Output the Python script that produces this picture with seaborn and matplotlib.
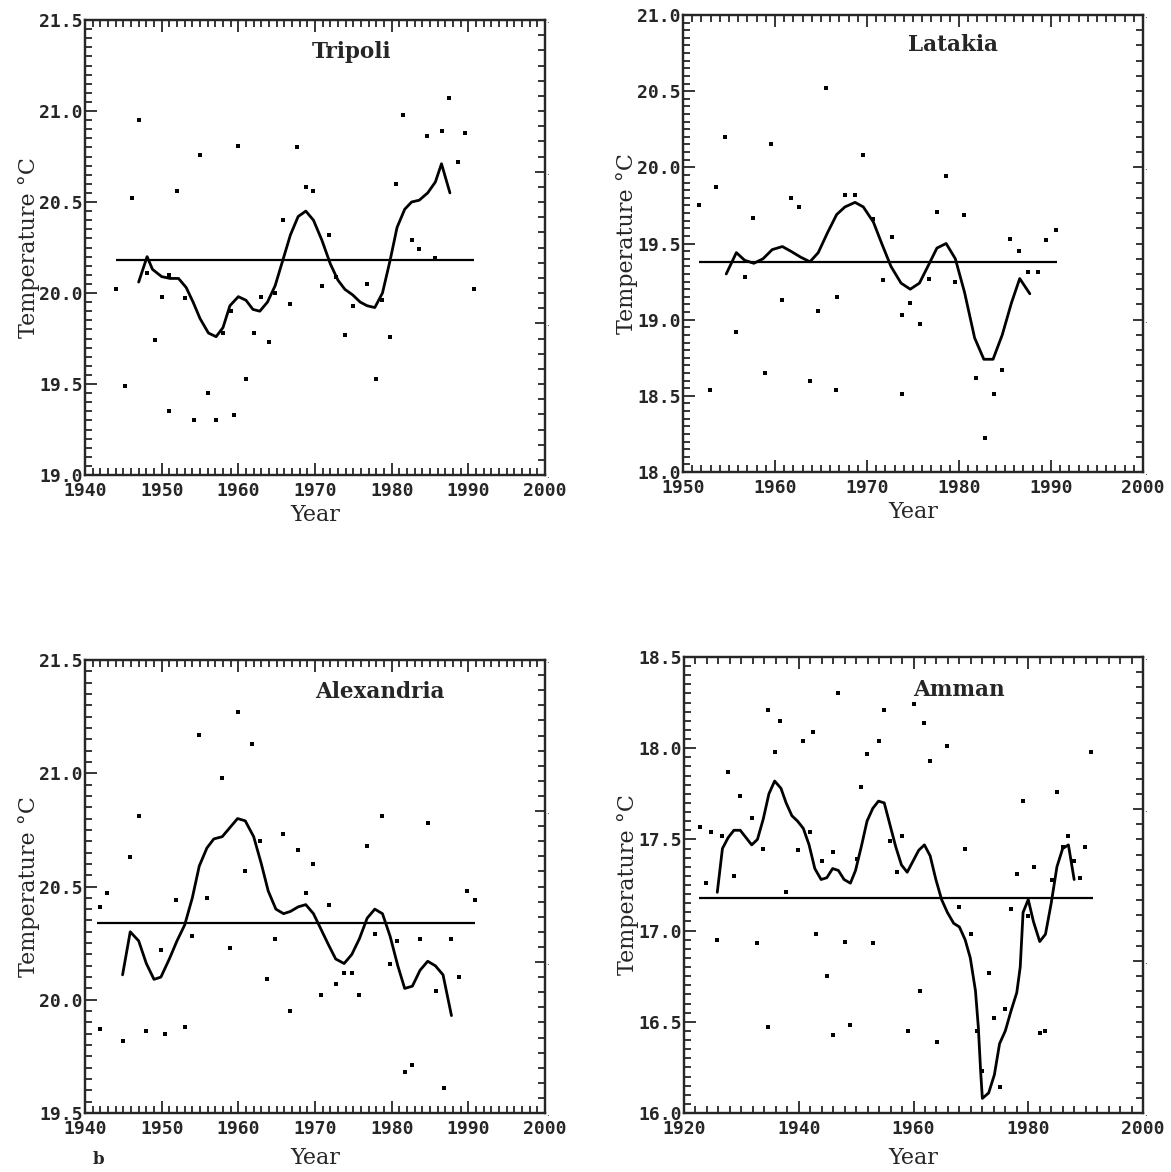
import numpy as np
import seaborn as sns
import matplotlib.pyplot as plt
from matplotlib.ticker import MultipleLocator, FormatStrFormatter, FuncFormatter

# Annual mean temperatures (dots), smoothed curve and long-term mean.

# --- Tripoli ---
tripoli_years = [1944.1, 1945.2, 1946.1, 1947.0, 1948.1, 1949.1, 1950.1, 1951.0, 1951.0,
                 1952.0, 1953.1, 1954.2, 1955.0, 1956.1, 1957.1, 1958.0, 1959.0, 1959.4,
                 1959.9, 1961.0, 1962.0, 1963.0, 1964.0, 1964.8, 1965.8, 1966.8, 1967.7,
                 1968.8, 1969.8, 1970.9, 1971.8, 1972.8, 1973.9, 1974.9, 1976.8, 1977.9,
                 1978.7, 1979.8, 1980.6, 1981.5, 1982.6, 1983.6, 1984.6, 1985.7, 1986.5,
                 1987.5, 1988.6, 1989.6, 1990.7]
tripoli_temps = [20.02, 19.49, 20.52, 20.95, 20.11, 19.74, 19.98, 20.10, 19.35,
                 20.56, 19.97, 19.30, 20.76, 19.45, 19.30, 19.78, 19.90, 19.33,
                 20.81, 19.53, 19.78, 19.98, 19.73, 20.00, 20.40, 19.94, 20.80,
                 20.58, 20.56, 20.04, 20.32, 20.09, 19.77, 19.93, 20.05, 19.53,
                 19.96, 19.76, 20.60, 20.98, 20.29, 20.24, 20.86, 20.19, 20.89,
                 21.07, 20.72, 20.88, 20.02]
tripoli_smooth_years = [1947.0, 1948.1, 1948.8, 1950.0, 1951.1, 1952.2, 1953.2, 1954.1, 1955.0,
                        1956.1, 1957.1, 1958.0, 1958.9, 1960.0, 1961.0, 1961.9, 1962.8, 1963.8,
                        1964.8, 1965.8, 1966.8, 1967.8, 1968.8, 1969.8, 1970.9, 1972.0, 1973.0,
                        1973.9, 1974.9, 1975.9, 1976.8, 1977.8, 1978.8, 1979.8, 1980.7, 1981.7,
                        1982.6, 1983.6, 1984.7, 1985.7, 1986.5, 1987.6]
tripoli_smooth = [20.06, 20.20, 20.13, 20.09, 20.08, 20.08, 20.03, 19.95, 19.86,
                  19.78, 19.76, 19.81, 19.93, 19.98, 19.96, 19.91, 19.90, 19.95,
                  20.04, 20.18, 20.32, 20.42, 20.45, 20.40, 20.29, 20.16, 20.07,
                  20.02, 19.99, 19.95, 19.93, 19.92, 20.00, 20.18, 20.36, 20.46,
                  20.50, 20.51, 20.55, 20.61, 20.71, 20.55]
tripoli_mean = 20.18
tripoli_span = [1944.0, 1990.8]

# --- Latakia ---
latakia_years = [1951.7, 1952.9, 1953.6, 1954.6, 1955.8, 1956.7, 1957.6, 1958.9, 1959.6,
                 1960.8, 1961.7, 1962.6, 1963.8, 1964.7, 1965.5, 1966.6, 1966.7, 1967.6,
                 1968.7, 1969.6, 1970.6, 1971.7, 1972.7, 1973.8, 1973.8, 1974.7, 1975.8,
                 1976.7, 1977.6, 1978.6, 1979.6, 1980.5, 1981.8, 1982.8, 1983.8, 1984.7,
                 1985.5, 1986.5, 1987.5, 1988.6, 1989.5, 1990.5]
latakia_temps = [19.75, 18.54, 19.87, 20.20, 18.92, 19.28, 19.67, 18.65, 20.15,
                 19.13, 19.80, 19.74, 18.60, 19.06, 20.52, 18.54, 19.15, 19.82,
                 19.82, 20.08, 19.66, 19.26, 19.54, 19.03, 18.51, 19.11, 18.97,
                 19.27, 19.71, 19.94, 19.25, 19.69, 18.62, 18.22, 18.51, 18.67,
                 19.53, 19.45, 19.31, 19.31, 19.52, 19.59]
latakia_smooth_years = [1954.7, 1955.8, 1956.7, 1957.7, 1958.7, 1959.7, 1960.8, 1961.7, 1962.8,
                        1963.8, 1964.7, 1965.7, 1966.7, 1967.6, 1968.7, 1969.6, 1970.7, 1971.6,
                        1972.6, 1973.7, 1974.7, 1975.7, 1976.7, 1977.6, 1978.6, 1979.6, 1980.6,
                        1981.7, 1982.7, 1983.7, 1984.7, 1985.7, 1986.6, 1987.7]
latakia_smooth = [19.30, 19.44, 19.39, 19.37, 19.40, 19.46, 19.48, 19.45, 19.41,
                  19.38, 19.44, 19.57, 19.69, 19.74, 19.77, 19.74, 19.64, 19.50,
                  19.35, 19.24, 19.20, 19.24, 19.36, 19.47, 19.50, 19.40, 19.18,
                  18.88, 18.74, 18.74, 18.90, 19.11, 19.27, 19.17]
latakia_mean = 19.38
latakia_span = [1951.7, 1990.7]

# --- Alexandria ---
alexandria_years = [1941.9, 1942.9, 1942.0, 1944.9, 1945.9, 1947.0, 1948.0, 1949.9, 1950.4,
                    1951.9, 1953.0, 1954.0, 1954.9, 1955.9, 1957.9, 1958.9, 1959.9, 1960.9,
                    1961.8, 1962.8, 1963.8, 1964.8, 1965.8, 1966.8, 1967.8, 1968.8, 1969.8,
                    1970.8, 1971.8, 1972.8, 1973.8, 1974.8, 1975.8, 1976.8, 1977.8, 1978.7,
                    1979.8, 1980.7, 1981.7, 1982.7, 1983.7, 1984.7, 1985.8, 1986.8, 1987.8,
                    1988.8, 1989.8, 1990.9]
alexandria_temps = [20.41, 20.47, 19.87, 19.82, 20.63, 20.81, 19.86, 20.22, 19.85,
                    20.44, 19.88, 20.28, 21.17, 20.45, 20.98, 20.23, 21.27, 20.57,
                    21.13, 20.70, 20.09, 20.27, 20.73, 19.95, 20.66, 20.47, 20.60,
                    20.02, 20.42, 20.07, 20.12, 20.12, 20.02, 20.68, 20.29, 20.81,
                    20.16, 20.26, 19.68, 19.71, 20.27, 20.78, 20.04, 19.61, 20.27,
                    20.10, 20.48, 20.44]
alexandria_smooth_years = [1944.9, 1945.9, 1947.0, 1948.0, 1949.0, 1949.9, 1951.0, 1952.0, 1953.0,
                           1954.0, 1954.9, 1955.9, 1956.8, 1957.9, 1958.9, 1959.9, 1960.9, 1962.0,
                           1963.0, 1963.9, 1964.9, 1965.9, 1966.8, 1967.8, 1968.8, 1969.8, 1970.8,
                           1971.8, 1972.7, 1973.8, 1974.8, 1975.8, 1976.8, 1977.8, 1978.8, 1979.8,
                           1980.8, 1981.7, 1982.7, 1983.7, 1984.7, 1985.7, 1986.7, 1987.8]
alexandria_smooth = [20.11, 20.30, 20.26, 20.16, 20.09, 20.10, 20.18, 20.26, 20.33,
                     20.45, 20.59, 20.67, 20.71, 20.72, 20.76, 20.80, 20.79, 20.72,
                     20.60, 20.48, 20.40, 20.38, 20.39, 20.41, 20.42, 20.38, 20.31,
                     20.24, 20.18, 20.16, 20.20, 20.27, 20.36, 20.40, 20.38, 20.28,
                     20.15, 20.05, 20.06, 20.13, 20.17, 20.15, 20.11, 19.93]
alexandria_mean = 20.34
alexandria_span = [1941.6, 1990.9]

# --- Amman ---
amman_years = [1922.8, 1923.8, 1924.7, 1925.7, 1926.7, 1927.7, 1928.7, 1929.7, 1931.8,
               1932.8, 1933.8, 1934.7, 1934.7, 1935.8, 1936.7, 1937.8, 1939.8, 1940.8,
               1941.9, 1942.4, 1943.0, 1944.0, 1945.0, 1945.9, 1945.9, 1946.9, 1948.0,
               1949.0, 1950.1, 1950.9, 1951.9, 1953.0, 1954.0, 1954.9, 1955.9, 1957.1,
               1958.0, 1959.0, 1960.1, 1961.1, 1961.9, 1962.9, 1964.1, 1965.9, 1968.0,
               1969.0, 1970.0, 1971.0, 1972.0, 1973.1, 1974.0, 1975.0, 1976.0, 1977.0,
               1978.0, 1979.0, 1980.0, 1981.0, 1982.0, 1983.0, 1984.1, 1985.0, 1986.0,
               1987.0, 1988.0, 1989.0, 1989.9, 1991.0]
amman_temps = [17.57, 17.26, 17.54, 16.95, 17.52, 17.87, 17.30, 17.74, 17.62,
               16.93, 17.45, 18.21, 16.47, 17.98, 18.15, 17.21, 17.44, 18.04,
               17.54, 18.09, 16.98, 17.38, 16.75, 17.43, 16.43, 18.30, 16.94,
               16.48, 17.39, 17.79, 17.97, 16.93, 18.04, 18.21, 17.49, 17.32,
               17.52, 16.45, 18.24, 16.67, 18.14, 17.93, 16.39, 18.01, 17.13,
               17.45, 16.98, 16.45, 16.23, 16.77, 16.52, 16.14, 16.57, 17.12,
               17.31, 17.71, 17.08, 17.35, 16.44, 16.45, 17.28, 17.76, 17.46,
               17.52, 17.38, 17.29, 17.46, 17.98]
amman_smooth_years = [1925.8, 1926.7, 1927.7, 1928.7, 1929.8, 1930.8, 1931.8, 1932.8, 1933.8,
                      1934.8, 1935.8, 1936.9, 1937.8, 1938.8, 1939.8, 1940.8, 1941.8, 1942.8,
                      1943.9, 1944.9, 1945.9, 1946.9, 1947.9, 1949.0, 1949.9, 1950.9, 1951.9,
                      1952.9, 1953.9, 1954.9, 1955.9, 1956.9, 1957.9, 1958.9, 1959.9, 1960.9,
                      1961.9, 1962.9, 1963.9, 1964.9, 1965.9, 1967.0, 1968.0, 1969.0, 1969.9,
                      1970.8, 1971.3, 1971.7, 1972.0, 1973.1, 1974.1, 1975.0, 1976.0, 1977.0,
                      1978.0, 1978.6, 1979.1, 1980.0, 1980.9, 1982.0, 1983.0, 1984.0, 1985.0,
                      1986.0, 1987.0, 1988.0]
amman_smooth = [17.21, 17.45, 17.51, 17.55, 17.55, 17.51, 17.47, 17.50, 17.61,
                17.75, 17.82, 17.78, 17.70, 17.63, 17.60, 17.56, 17.47, 17.34,
                17.28, 17.29, 17.34, 17.33, 17.28, 17.26, 17.33, 17.46, 17.60,
                17.67, 17.71, 17.70, 17.58, 17.46, 17.36, 17.32, 17.38, 17.44,
                17.47, 17.41, 17.28, 17.17, 17.10, 17.04, 17.02, 16.95, 16.85,
                16.67, 16.47, 16.23, 16.08, 16.11, 16.21, 16.38, 16.45, 16.56,
                16.66, 16.80, 17.10, 17.17, 17.05, 16.94, 16.98, 17.15, 17.35,
                17.45, 17.47, 17.28]
amman_mean = 17.18
amman_span = [1922.7, 1991.3]

FIG_W, FIG_H = 1171, 1172
TICK_FONT = dict(family="DejaVu Sans Mono", weight="bold", size=13)


def draw_panel(fig, box, name, pt_years, pt_temps, sm_years, sm_temps, mean_temp, span,
               xlim, ylim, xmajor, xminor, title_xy, year_gap):
    """Draw one station panel. box is (left, top, right, bottom) in pixels."""
    l, t, r, b = box
    ax = fig.add_axes([l / FIG_W, 1 - b / FIG_H, (r - l) / FIG_W, (b - t) / FIG_H])

    sns.scatterplot(x=pt_years, y=pt_temps, ax=ax, marker="s", s=6,
                    color="black", linewidth=0, zorder=3)
    sns.lineplot(x=sm_years, y=sm_temps, ax=ax, color="black", linewidth=2,
                 sort=False, estimator=None, zorder=4)
    ax.hlines(mean_temp, span[0], span[1], color="black", linewidth=1.6, zorder=4)

    ax.set_xlim(*xlim)
    ax.set_ylim(*ylim)
    ax.xaxis.set_major_locator(MultipleLocator(xmajor))
    ax.xaxis.set_minor_locator(MultipleLocator(xminor))
    ax.yaxis.set_major_locator(MultipleLocator(0.5))
    ax.yaxis.set_minor_locator(MultipleLocator(0.05))
    ax.yaxis.set_major_formatter(FormatStrFormatter("%.1f"))
    ax.tick_params(which="both", direction="in", top=True, bottom=True,
                   left=True, right=False, width=1.3)
    ax.tick_params(which="major", length=8.5)
    ax.tick_params(which="minor", length=5)
    ax.tick_params(axis="y", pad=1.5)
    ax.tick_params(axis="x", pad=5)
    for lab in ax.get_xticklabels() + ax.get_yticklabels():
        lab.set_fontproperties(TICK_FONT)
    for sp in ax.spines.values():
        sp.set_linewidth(1.6)

    # right-hand axis of the original (thirds, labels printed as tiny dots)
    ax2 = ax.twinx()
    ax2.set_ylim(0, 3)
    ax2.yaxis.set_major_locator(MultipleLocator(1))
    ax2.yaxis.set_minor_locator(MultipleLocator(0.1))
    ax2.yaxis.set_major_formatter(FuncFormatter(lambda v, p: "."))
    ax2.tick_params(which="both", direction="in", width=1.3, pad=1, labelsize=6)
    ax2.tick_params(which="major", length=7.5)
    ax2.tick_params(which="minor", length=5)
    for sp in ax2.spines.values():
        sp.set_linewidth(1.6)

    ax.set_xlabel("Year", family="DejaVu Serif", fontsize=16)
    ax.set_ylabel("Temperature °C", family="DejaVu Serif", fontsize=16)
    ax.xaxis.set_label_coords(0.5, -year_gap / (b - t))
    ax.yaxis.set_label_coords(-0.098, 0.5)
    ax.text(title_xy[0], title_xy[1], name, transform=ax.transAxes, ha="center",
            va="center", family="DejaVu Serif", weight="bold", fontsize=15.5)
    return ax


sns.set_style("ticks")
plt.rcParams["font.family"] = ["DejaVu Serif"]

fig = plt.figure(figsize=(FIG_W / 100, FIG_H / 100), dpi=100)

draw_panel(fig, (85, 20, 545, 475), "Tripoli", tripoli_years, tripoli_temps,
           tripoli_smooth_years, tripoli_smooth, tripoli_mean, tripoli_span,
           (1940, 2000), (19.0, 21.5), 10, 1, (0.58, 0.93), 29)
draw_panel(fig, (683, 15, 1143, 472), "Latakia", latakia_years, latakia_temps,
           latakia_smooth_years, latakia_smooth, latakia_mean, latakia_span,
           (1950, 2000), (18.0, 21.0), 10, 1, (0.587, 0.934), 29)
draw_panel(fig, (85, 660, 545, 1113), "Alexandria", alexandria_years, alexandria_temps,
           alexandria_smooth_years, alexandria_smooth, alexandria_mean, alexandria_span,
           (1940, 2000), (19.5, 21.5), 10, 1, (0.64, 0.93), 34)
draw_panel(fig, (684, 657, 1143, 1113), "Amman", amman_years, amman_temps,
           amman_smooth_years, amman_smooth, amman_mean, amman_span,
           (1920, 2000), (16.0, 18.5), 20, 2, (0.60, 0.927), 34)

fig.text(98 / FIG_W, 1 - 1160 / FIG_H, "b", family="DejaVu Serif", weight="bold",
         fontsize=12, ha="center", va="center")

fig.savefig("out.png", dpi=100)
